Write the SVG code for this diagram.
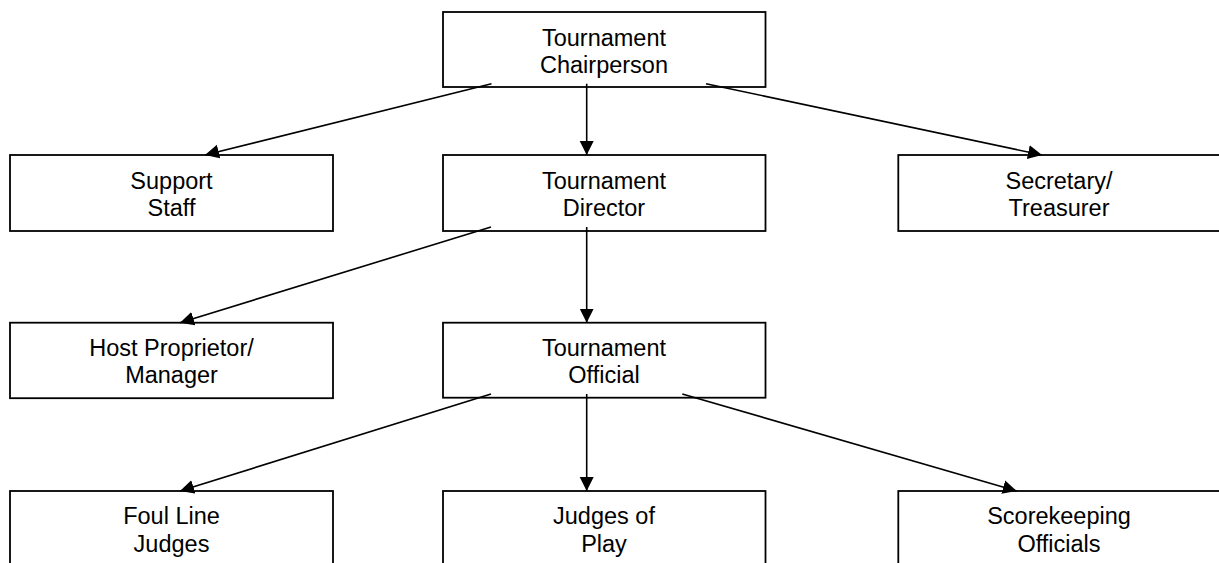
<svg xmlns="http://www.w3.org/2000/svg" width="1219" height="563" viewBox="0 0 1219 563">
<style>
.box{fill:#fff;stroke:#000;stroke-width:1.8}
.t{font-family:"Liberation Sans",Arial,sans-serif;font-size:23.5px;fill:#000;text-anchor:middle}
.c{stroke:#000;stroke-width:1.6;fill:none;marker-end:url(#ah)}
</style>
<defs>
<marker id="ah" markerUnits="userSpaceOnUse" markerWidth="16" markerHeight="16" refX="14" refY="7" orient="auto">
<path d="M0,0 L14,7 L0,14 Z" fill="#000"/>
</marker>
</defs>
<rect width="1219" height="563" fill="#fff"/>
<g id="n-chair"><rect class="box" x="443" y="12" width="322.5" height="75"/><text class="t" x="604" y="45.7">Tournament</text><text class="t" x="604" y="72.7">Chairperson</text></g>
<g id="n-support"><rect class="box" x="10" y="155" width="323" height="76"/><text class="t" x="171.5" y="189">Support</text><text class="t" x="171.5" y="216">Staff</text></g>
<g id="n-director"><rect class="box" x="443" y="155" width="322.5" height="76"/><text class="t" x="604" y="189">Tournament</text><text class="t" x="604" y="215.7">Director</text></g>
<g id="n-secretary"><rect class="box" x="898.3" y="155" width="340" height="76"/><text class="t" x="1059" y="189">Secretary/</text><text class="t" x="1059" y="216">Treasurer</text></g>
<g id="n-host"><rect class="box" x="10" y="322.7" width="323" height="75.5"/><text class="t" x="171.5" y="356">Host Proprietor/</text><text class="t" x="171.5" y="383.3">Manager</text></g>
<g id="n-official"><rect class="box" x="443" y="322.7" width="322.5" height="75"/><text class="t" x="604" y="356">Tournament</text><text class="t" x="604" y="383">Official</text></g>
<g id="n-foul"><rect class="box" x="10" y="491" width="323" height="100"/><text class="t" x="171.5" y="523.5">Foul Line</text><text class="t" x="171.5" y="551.5">Judges</text></g>
<g id="n-judges"><rect class="box" x="443" y="491" width="322.5" height="100"/><text class="t" x="604" y="523.5">Judges of</text><text class="t" x="604" y="551.5">Play</text></g>
<g id="n-score"><rect class="box" x="898.3" y="491" width="340" height="100"/><text class="t" x="1059" y="523.5">Scorekeeping</text><text class="t" x="1059" y="551.5">Officials</text></g>
<g id="connectors">
<line class="c" x1="491.5" y1="83.7" x2="205" y2="155"/>
<line class="c" x1="586.7" y1="83.7" x2="586.7" y2="155"/>
<line class="c" x1="706" y1="83.7" x2="1042" y2="155"/>
<line class="c" x1="491" y1="227" x2="180" y2="322.7"/>
<line class="c" x1="586.7" y1="227" x2="586.7" y2="322.7"/>
<line class="c" x1="491" y1="394" x2="180" y2="491"/>
<line class="c" x1="586.7" y1="394" x2="586.7" y2="491"/>
<line class="c" x1="682.3" y1="394" x2="1016.7" y2="491"/>
</g>
</svg>
